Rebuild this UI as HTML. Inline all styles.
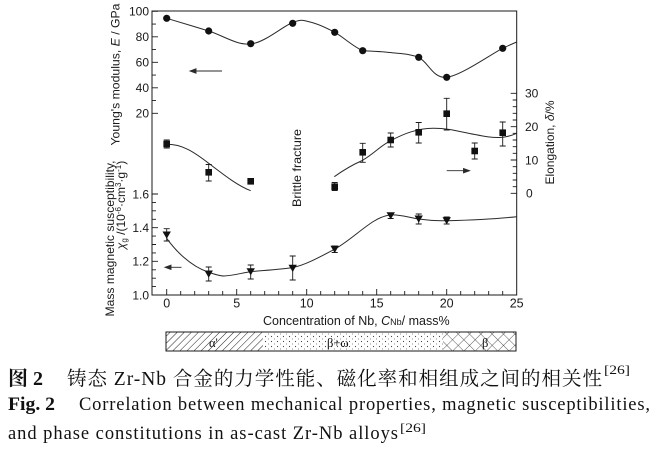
<!DOCTYPE html>
<html><head><meta charset="utf-8"><style>
html,body{margin:0;padding:0;background:#fff;}
svg{display:block;}
.ax{font-family:"Liberation Sans",Arial,sans-serif;font-size:12px;fill:#1a1a1a;}
.cap{font-family:"Liberation Serif","Noto Serif CJK SC",serif;fill:#111;}
</style></head><body>
<svg width="658" height="452" viewBox="0 0 658 452" xmlns="http://www.w3.org/2000/svg">
<defs>
<pattern id="hatch" patternUnits="userSpaceOnUse" width="5" height="5" patternTransform="rotate(45)">
<line x1="0" y1="0" x2="0" y2="5" stroke="#222" stroke-width="1"/>
</pattern>
<pattern id="dots" patternUnits="userSpaceOnUse" width="6" height="5">
<circle cx="1.5" cy="1.5" r="0.6" fill="#444"/>
<circle cx="4.5" cy="4" r="0.5" fill="#666"/>
</pattern>
<pattern id="cross" patternUnits="userSpaceOnUse" width="8" height="8" patternTransform="rotate(45)">
<line x1="0" y1="0" x2="0" y2="8" stroke="#333" stroke-width="0.8"/>
<line x1="0" y1="0" x2="8" y2="0" stroke="#333" stroke-width="0.8"/>
</pattern>
</defs>
<rect width="658" height="452" fill="#fff"/>

<!-- frame -->
<rect x="152" y="11" width="364.7" height="284" fill="none" stroke="#1a1a1a" stroke-width="1"/>

<!-- ticks -->
<g stroke="#1a1a1a" stroke-width="0.9" fill="none">
<path d="M152,11.3h6 M152,24.05h4 M152,36.8h6 M152,49.55h4 M152,62.3h6 M152,75.05h4 M152,87.8h6 M152,100.55h4 M152,113.3h6"/>
<path d="M152,295h6 M152,286.6h4 M152,278.2h4 M152,269.8h4 M152,261.3h6 M152,252.9h4 M152,244.5h4 M152,236.1h4 M152,227.7h6 M152,219.3h4 M152,210.8h4 M152,202.4h4 M152,194h6"/>
<path d="M516.7,193.3h-6 M516.7,186.7h-4 M516.7,180h-4 M516.7,173.3h-4 M516.7,166.7h-4 M516.7,160h-6 M516.7,153.3h-4 M516.7,146.7h-4 M516.7,140h-4 M516.7,133.3h-4 M516.7,126.7h-6 M516.7,120h-4 M516.7,113.3h-4 M516.7,106.7h-4 M516.7,100h-4 M516.7,93.3h-6"/>
<path d="M166.7,295v-6 M180.7,295v-4 M194.7,295v-4 M208.7,295v-4 M222.7,295v-4 M236.7,295v-6 M250.7,295v-4 M264.7,295v-4 M278.7,295v-4 M292.7,295v-4 M306.7,295v-6 M320.7,295v-4 M334.7,295v-4 M348.7,295v-4 M362.7,295v-4 M376.7,295v-6 M390.7,295v-4 M404.7,295v-4 M418.7,295v-4 M432.7,295v-4 M446.7,295v-6 M460.7,295v-4 M474.7,295v-4 M488.7,295v-4 M502.7,295v-4"/>
</g>

<!-- tick labels -->
<g class="ax" text-anchor="end">
<text x="149" y="15.5">100</text>
<text x="149" y="41">80</text>
<text x="149" y="66.5">60</text>
<text x="149" y="92">40</text>
<text x="149" y="117.5">20</text>
<text x="149" y="198.3">1.6</text>
<text x="149" y="232">1.4</text>
<text x="149" y="265.6">1.2</text>
<text x="149" y="299.3">1.0</text>
</g>
<g class="ax" text-anchor="start">
<text x="525" y="97.6">30</text>
<text x="525" y="131">20</text>
<text x="525" y="164.3">10</text>
<text x="526" y="197.6">0</text>
</g>
<g class="ax" text-anchor="middle" style="font-size:12.5px">
<text x="166.7" y="307.5">0</text>
<text x="236.7" y="307.5">5</text>
<text x="306.7" y="307.5">10</text>
<text x="376.7" y="307.5">15</text>
<text x="446.7" y="307.5">20</text>
<text x="516.7" y="307.5">25</text>
</g>

<!-- axis titles -->
<text class="ax" transform="translate(119.5,74.5) rotate(-90)" text-anchor="middle" textLength="142" lengthAdjust="spacingAndGlyphs">Young's modulus, <tspan font-style="italic">E</tspan> / GPa</text>
<text class="ax" transform="translate(114,238.5) rotate(-90)" text-anchor="middle" textLength="156" lengthAdjust="spacingAndGlyphs">Mass magnetic susceptibility,</text>
<text class="ax" transform="translate(125,205) rotate(-90)" text-anchor="middle"><tspan font-style="italic">χ</tspan><tspan font-size="8" dy="2">g</tspan><tspan dy="-2"> /(10</tspan><tspan font-size="8" dy="-4">-6</tspan><tspan dy="4">·cm</tspan><tspan font-size="8" dy="-4">3</tspan><tspan dy="4">·g</tspan><tspan font-size="8" dy="-4">-1</tspan><tspan dy="4">)</tspan></text>
<text class="ax" transform="translate(554,142.5) rotate(-90)" text-anchor="middle">Elongation, <tspan font-style="italic">δ</tspan>/%</text>
<text class="ax" transform="translate(301,168) rotate(-90)" text-anchor="middle" textLength="78" lengthAdjust="spacingAndGlyphs">Brittle fracture</text>
<text class="ax" x="263" y="325" style="font-size:12.5px">Concentration of Nb, <tspan font-style="italic">C</tspan><tspan font-size="9">Nb</tspan>/ mass%</text>

<!-- curves -->
<g fill="none" stroke="#2a2a2a" stroke-width="1">
<path d="M166.7,18.3 C173.7,20.4 194.7,26.7 208.7,31 C222.7,35.3 236.7,45.4 250.7,44 C264.7,42.6 282.8,26.2 292.7,22.5 C302.6,18.8 303,20.4 310,22 C317,23.6 325.9,27.6 334.7,32.3 C343.5,37.05 353.5,47.1 362.7,50.5 C371,51.5 380.7,51.3 390,52.5 C399.3,53.7 409.25,53.4 418.7,57.5 C428.15,61.6 432.7,78.8 446.7,77.3 C460.7,75.8 491,54.2 502.7,48.3 C507.5,46 512,44 516.7,42"/>
<path d="M166.7,144.3 C182,144 194,152 208.7,163.3 C223.4,174.6 238,186 250.7,190.7"/>
<path d="M334.3,176.7 C345,169 352,165 362.3,160.5 C375,153 380,146 390.7,140.7 C405,133 418,128.5 433,128.3 C450,128.2 460,132 475,134.5 C485,136.5 492,137.8 500,137.5 C508,137 513,135 516.7,133.3"/>
<path d="M166.7,238.3 C175,250 190,266 208,272 C215,274.5 220,276 224,276 C235,275.5 243,272.5 252,271.5 C270,270 285,269 293,267.5 C305,265 318,258 334.5,249.3 C355,238 372,217 390,215 C400,214 410,218 419,219 C430,220.5 438,221 447,220.7 C475,220 500,218.5 516.7,216.7"/>
</g>

<!-- arrows -->
<g stroke="#2a2a2a" stroke-width="0.9" fill="#2a2a2a">
<line x1="222" y1="71" x2="193" y2="71"/>
<path d="M190,71 L196,68.8 L196,73.2 Z"/>
<line x1="446.7" y1="170.7" x2="466" y2="170.7"/>
<path d="M469.5,170.7 L463.5,168.5 L463.5,172.9 Z"/>
<line x1="181.5" y1="267.3" x2="168" y2="267.3"/>
<path d="M165,267.3 L171,265.1 L171,269.5 Z"/>
</g>

<!-- error bars -->
<g stroke="#1a1a1a" stroke-width="0.9" fill="none">
<path d="M166.7,140v8 M163.7,140h6 M163.7,148h6"/>
<path d="M208.7,164.5v16.5 M205.7,164.5h6 M205.7,181h6"/>
<path d="M334.7,182.5v8 M331.7,182.5h6 M331.7,190.5h6"/>
<path d="M362.7,143.3v19 M359.7,143.3h6 M359.7,162.3h6"/>
<path d="M390.7,133v14 M387.7,133h6 M387.7,147h6"/>
<path d="M418.7,122.5v20.5 M415.7,122.5h6 M415.7,143h6"/>
<path d="M446.7,98.3v31.7 M443.7,98.3h6 M443.7,130h6"/>
<path d="M474.7,143v16 M471.7,143h6 M471.7,159h6"/>
<path d="M502.7,122v24 M499.7,122h6 M499.7,146h6"/>
<path d="M166.7,228.7v12.3 M163.7,228.7h6 M163.7,241h6"/>
<path d="M208.7,267v14 M205.7,267h6 M205.7,281h6"/>
<path d="M250.7,265v14 M247.7,265h6 M247.7,279h6"/>
<path d="M292.7,256v24 M289.7,256h6 M289.7,280h6"/>
<path d="M334.7,246v6.5 M331.7,246h6 M331.7,252.5h6"/>
<path d="M390.7,213.5v5 M387.7,213.5h6 M387.7,218.5h6"/>
<path d="M418.7,214v10 M415.7,214h6 M415.7,224h6"/>
<path d="M446.7,217v7 M443.7,217h6 M443.7,224h6"/>
</g>

<!-- Young's markers -->
<g fill="#111">
<circle cx="166.7" cy="18.3" r="3.6"/>
<circle cx="208.7" cy="31" r="3.6"/>
<circle cx="250.7" cy="43.7" r="3.6"/>
<circle cx="292.7" cy="23.3" r="3.6"/>
<circle cx="334.7" cy="32.3" r="3.6"/>
<circle cx="362.7" cy="50.7" r="3.6"/>
<circle cx="418.7" cy="57.3" r="3.6"/>
<circle cx="446.7" cy="77.3" r="3.6"/>
<circle cx="502.7" cy="48.3" r="3.6"/>
</g>
<!-- elongation squares -->
<g fill="#111">
<rect x="163.4" y="140.7" width="6.6" height="6.6"/>
<rect x="205.4" y="169" width="6.6" height="6.6"/>
<rect x="247.4" y="178" width="6.6" height="6.6"/>
<rect x="331.4" y="183.4" width="6.6" height="6.6"/>
<rect x="359.4" y="149" width="6.6" height="6.6"/>
<rect x="387.4" y="136.7" width="6.6" height="6.6"/>
<rect x="415.4" y="129" width="6.6" height="6.6"/>
<rect x="443.4" y="110.4" width="6.6" height="6.6"/>
<rect x="471.4" y="147.7" width="6.6" height="6.6"/>
<rect x="499.4" y="129.4" width="6.6" height="6.6"/>
</g>
<!-- susceptibility triangles -->
<g fill="#111">
<path d="M162.5,231.5h8.4l-4.2,7.2z"/>
<path d="M204.5,270.5h8.4l-4.2,7.2z"/>
<path d="M246.5,268.2h8.4l-4.2,7.2z"/>
<path d="M288.5,264.8h8.4l-4.2,7.2z"/>
<path d="M330.5,245.8h8.4l-4.2,7.2z"/>
<path d="M386.5,212.2h8.4l-4.2,7.2z"/>
<path d="M414.5,215.5h8.4l-4.2,7.2z"/>
<path d="M442.5,217.2h8.4l-4.2,7.2z"/>
</g>

<!-- phase bar -->
<rect x="166" y="332" width="97" height="19" fill="url(#hatch)"/>
<rect x="263" y="332" width="180" height="19" fill="url(#dots)"/>
<rect x="443" y="332" width="73" height="19" fill="url(#cross)"/>
<rect x="166" y="332" width="350" height="19" fill="none" stroke="#1a1a1a" stroke-width="1"/>
<g font-family="Liberation Serif, serif" font-size="12.5" fill="#111">
<text x="209" y="347">α'</text>
<text x="327" y="347">β+ω</text>
<text x="482" y="347">β</text>
</g>

<!-- caption -->
<text class="cap" x="8" y="385" font-size="20" font-weight="bold" font-family="Liberation Serif, Noto Sans CJK SC, sans-serif">图 2</text>
<text class="cap" x="67" y="385" font-size="19.5" textLength="535" lengthAdjust="spacing">铸态 Zr-Nb 合金的力学性能、磁化率和相组成之间的相关性</text>
<text class="cap" x="604" y="374" font-size="13" textLength="26" lengthAdjust="spacingAndGlyphs">[26]</text>
<text class="cap" x="8" y="410" font-size="18.5" font-weight="bold" textLength="47" lengthAdjust="spacingAndGlyphs">Fig. 2</text>
<text class="cap" x="79" y="410" font-size="18.5" textLength="571" lengthAdjust="spacing">Correlation between mechanical properties, magnetic susceptibilities,</text>
<text class="cap" x="8" y="439" font-size="18.5" textLength="390" lengthAdjust="spacing">and phase constitutions in as-cast Zr-Nb alloys</text>
<text class="cap" x="400" y="432" font-size="13" textLength="26" lengthAdjust="spacingAndGlyphs">[26]</text>
</svg>
</body></html>
